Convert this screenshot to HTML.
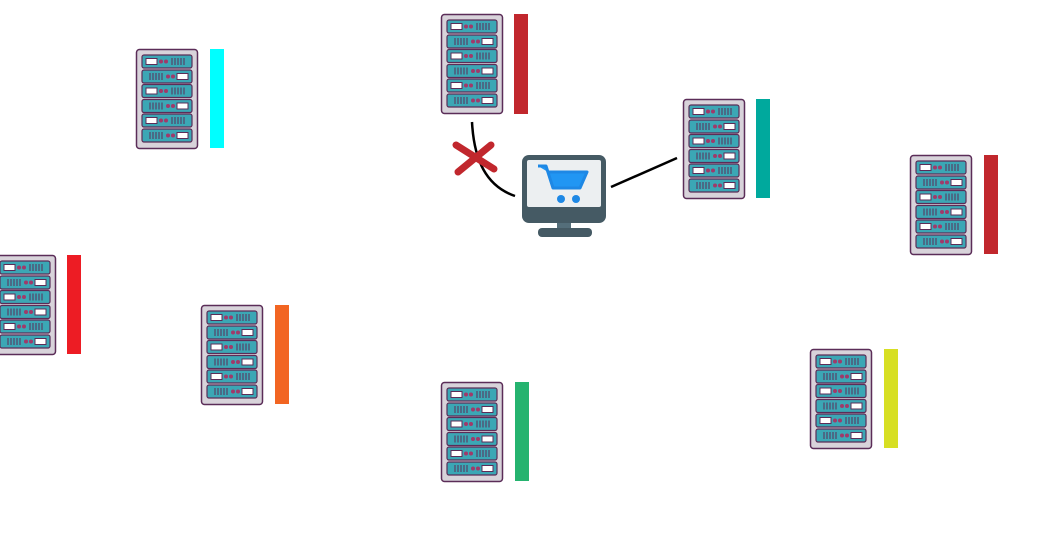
<!DOCTYPE html>
<html><head><style>html,body{margin:0;padding:0;background:#fff;overflow:hidden}</style></head>
<body>
<svg width="1050" height="538" viewBox="0 0 1050 538" xmlns="http://www.w3.org/2000/svg">
<defs>
<g id="srv">
<rect x="0.5" y="0.5" width="61" height="99" rx="3" fill="#d8d3da" stroke="#5b2d58" stroke-width="1.5"/>
<g id="row">
<rect x="6" y="6" width="50" height="13" rx="2" fill="#3ba7b5" stroke="#5b2d58" stroke-width="1.2"/>
<rect x="10" y="9.5" width="11" height="6" fill="#fff" stroke="#5b2d58" stroke-width="1"/>
<circle cx="25" cy="12.5" r="2" fill="#a03a6a"/><circle cx="30" cy="12.5" r="2" fill="#a03a6a"/>
<path d="M36 9v7M39 9v7M42 9v7M45 9v7M48 9v7" stroke="#5b2d58" stroke-width="1"/>
</g>
<use href="#row" transform="translate(62,15) scale(-1,1) translate(0,-0)"/>
<use href="#row" y="29.5"/>
<use href="#row" transform="translate(62,44.5) scale(-1,1)"/>
<use href="#row" y="59"/>
<use href="#row" transform="translate(62,74) scale(-1,1)"/>
</g>
</defs>
<use href="#srv" x="136" y="49"/><rect x="210" y="49" width="14" height="99" fill="#00ffff"/>
<use href="#srv" x="441" y="14"/><rect x="514" y="14" width="14" height="100" fill="#c1272d"/>
<use href="#srv" x="683" y="99"/><rect x="756" y="99" width="14" height="99" fill="#00a99d"/>
<use href="#srv" x="910" y="155"/><rect x="984" y="155" width="14" height="99" fill="#c1272d"/>
<use href="#srv" x="-6" y="255"/><rect x="67" y="255" width="14" height="99" fill="#ed1c24"/>
<use href="#srv" x="201" y="305"/><rect x="275" y="305" width="14" height="99" fill="#f26522"/>
<use href="#srv" x="441" y="382"/><rect x="515" y="382" width="14" height="99" fill="#25b36f"/>
<use href="#srv" x="810" y="349"/><rect x="884" y="349" width="14" height="99" fill="#d7df23"/>
<path d="M472 122 C474 160 486 186 515 196" fill="none" stroke="#000" stroke-width="2.5"/>
<path d="M611 187 L677 158" stroke="#000" stroke-width="2.5"/>
<path d="M456 145 L494 169 M491 145 L458 172" stroke="#c1272d" stroke-width="7" stroke-linecap="round"/>
<rect x="522" y="155" width="84" height="68" rx="7" fill="#455a64"/>
<rect x="527" y="160" width="74" height="47" rx="2" fill="#eceff1"/>
<rect x="557" y="223" width="14" height="6" fill="#546e7a"/>
<rect x="538" y="228" width="54" height="9" rx="4" fill="#455a64"/>
<path d="M538 166 L546 166 L553 188 L580 188 L587 172 L548 172" fill="#2196f3" stroke="#1e88e5" stroke-width="3" stroke-linejoin="round"/>
<circle cx="561" cy="199" r="4" fill="#1e88e5"/><circle cx="576" cy="199" r="4" fill="#1e88e5"/>
</svg>
</body></html>
